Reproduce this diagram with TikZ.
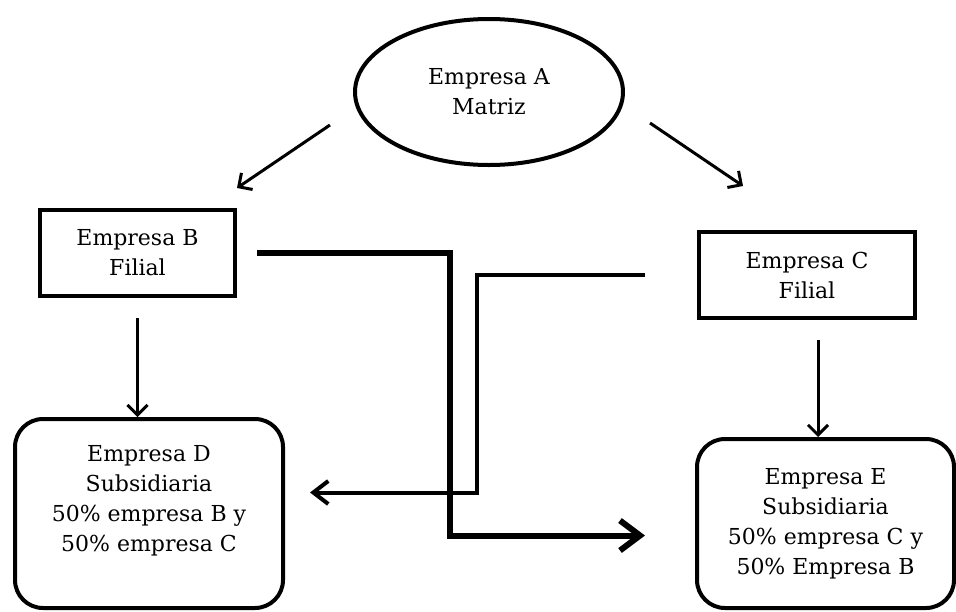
\documentclass[tikz,border=0pt]{standalone}
\usepackage{fontspec}
\setmainfont{DejaVu Serif}
\usetikzlibrary{shapes.geometric,arrows.meta}

\begin{document}
\begin{tikzpicture}[x=1pt,y=-1pt, every node/.style={font=\fontsize{22}{30}\selectfont, align=center},
  matriz/.style={draw, ellipse, line width=4pt, minimum width=268pt, minimum height=146pt},
  filial/.style={draw, rectangle, line width=4pt, minimum width=195pt, minimum height=86pt},
  subs/.style={draw, rectangle, rounded corners=28pt, line width=4pt},
  flecha/.style={line width=3pt, -{Straight Barb[length=10pt,width=20pt]}}]
  \useasboundingbox (0,0) rectangle (956,611);

  \node[matriz] (A) at (489,92) {Empresa A\\Matriz};
  \node[filial] (B) at (137.5,253) {Empresa B\\Filial};
  \node[filial, minimum width=216pt] (C) at (807,275) {Empresa C\\Filial};
  \node[subs, minimum width=268pt, minimum height=189pt, text depth=31pt] (D) at (149,513.5)
    {Empresa D\\Subsidiaria\\50\%\ empresa B y\\50\%\ empresa C};
  \node[subs, minimum width=257pt, minimum height=169pt] (E) at (825.5,523.5)
    {Empresa E\\Subsidiaria\\50\%\ empresa C y\\50\%\ Empresa B};

  \draw[flecha] ([xshift=-23pt,yshift=-33pt]A.west) -- ([yshift=20pt]B.north east);
  \draw[flecha] ([xshift=25pt,yshift=-31pt]A.east) -- ([xshift=46pt,yshift=44pt]C.north west);
  \draw[flecha, shorten <=20pt] (B.south) -- (B.south |- D.north);
  \draw[flecha, shorten <=20pt] ([xshift=11pt]C.south) -- ([xshift=11pt]C.south |- E.north);

  % cruces entre filiales y subsidiarias
  \coordinate (cruceB) at (450,0);
  \coordinate (cruceC) at (477,0);
  \draw[line width=4pt, -{Straight Barb[length=15pt,width=23pt]}, shorten <=52pt, shorten >=25pt]
    (C.west) -- (cruceC |- C.west) |- ([yshift=21pt]D.east);
  \draw[line width=6pt, -{Straight Barb[length=20pt,width=30pt]}, shorten <=20pt, shorten >=50pt]
    (B.east) -- (cruceB |- B.east) |- ([yshift=-12pt]E.west);
\end{tikzpicture}
\end{document}
